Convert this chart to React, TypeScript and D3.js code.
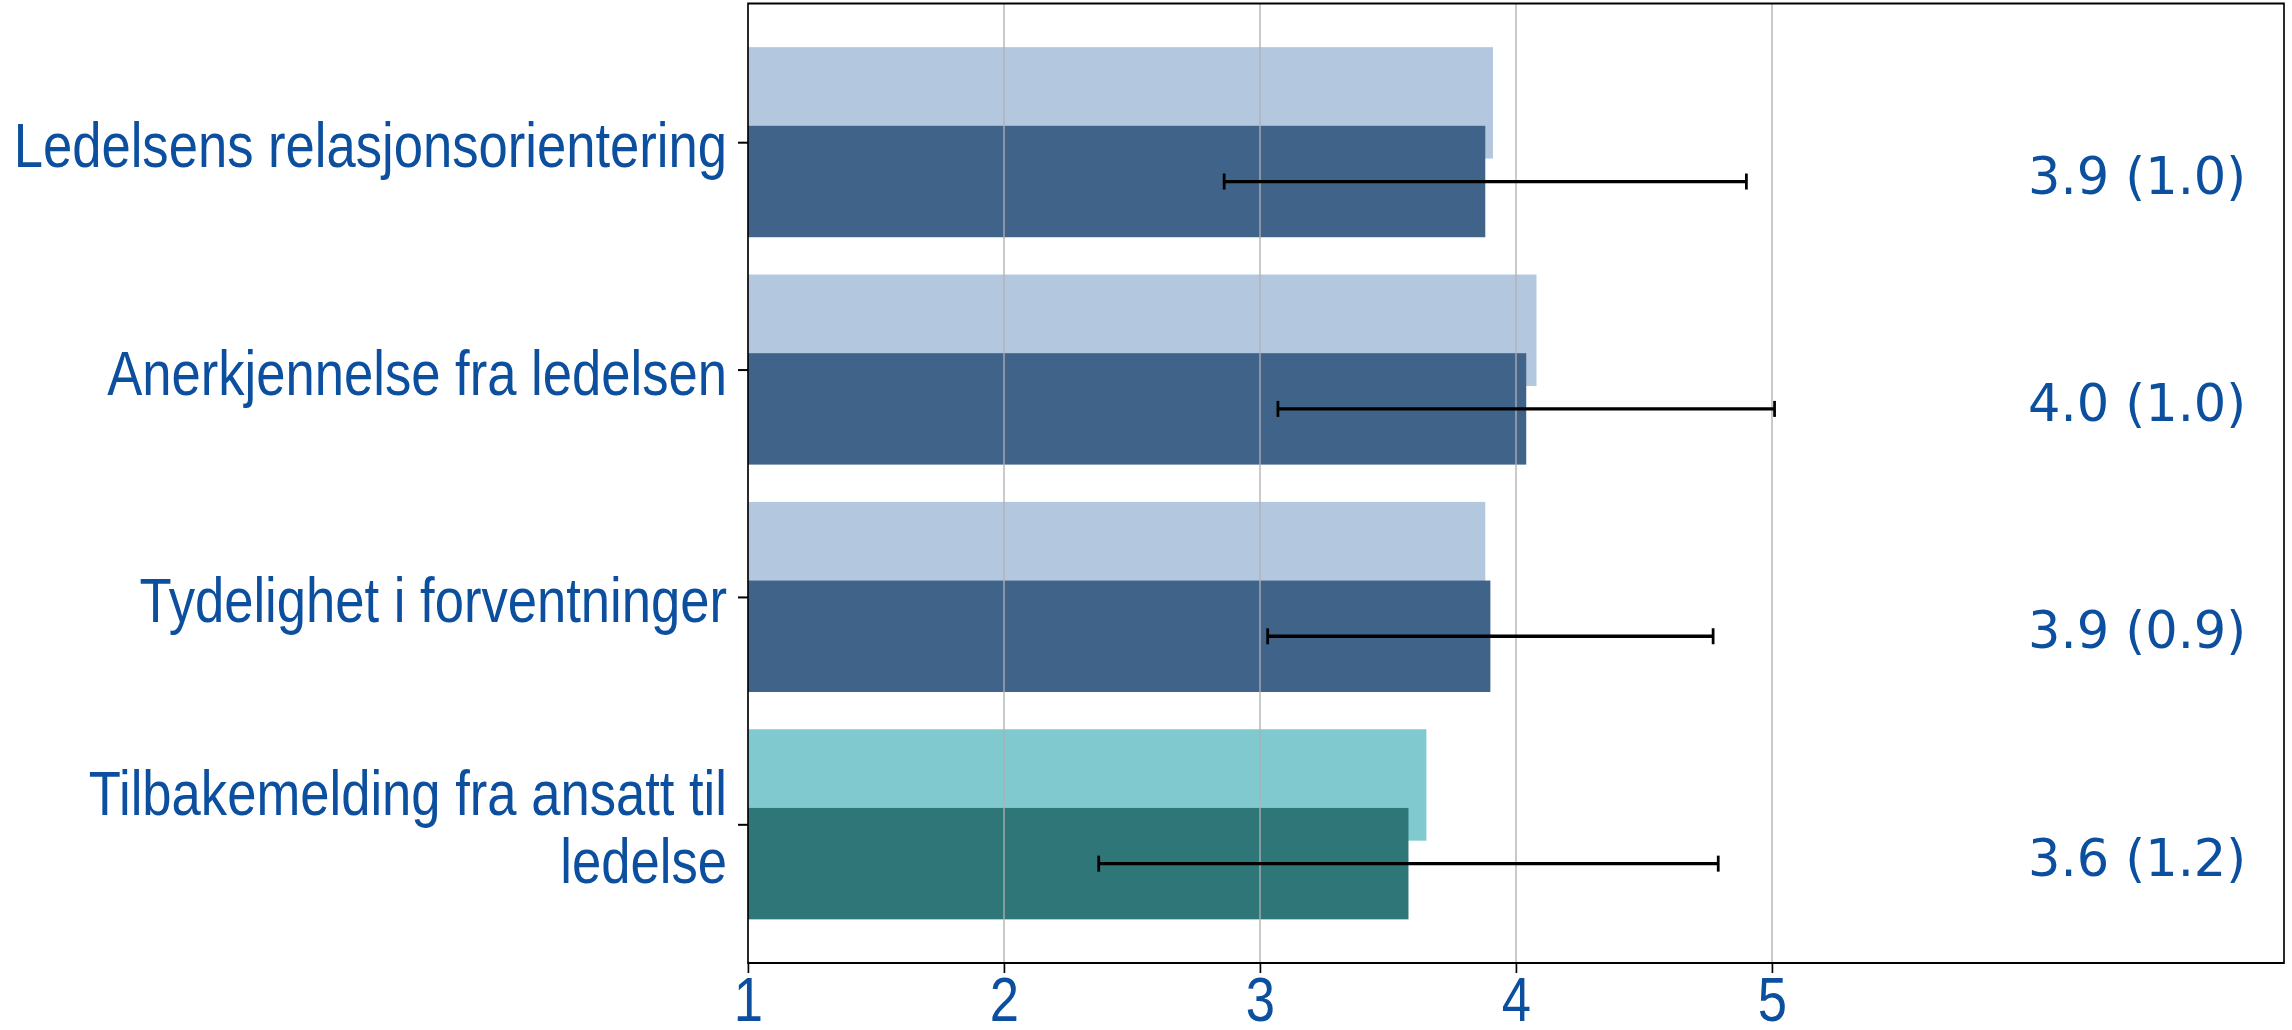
import React, { useEffect, useRef } from "react";
import * as d3 from "d3";

const categories = [
  "Ledelsens relasjonsorientering",
  "Anerkjennelse fra ledelsen",
  "Tydelighet i forventninger",
  "Tilbakemelding fra ansatt til\nledelse",
];
const compareValues = [3.91, 4.08, 3.88, 3.65];
const meanValues = [3.88, 4.04, 3.9, 3.58];
const sdValues = [1.02, 0.97, 0.87, 1.21];
const xTicks = [1, 2, 3, 4, 5];
const lightColors = ["#b3c8de", "#b3c8de", "#b3c8de", "#80c9ce"];
const darkColors = ["#3f6389", "#3f6389", "#3f6389", "#2e7678"];

const W = 2292;
const H = 1030;
// the original picture is squeezed horizontally, so draw wider and let the viewBox squash it
const SX = 0.835;
const TEXT = "#0b4f9e";

const App: React.FC = () => {
  const svgRef = useRef<SVGSVGElement | null>(null);

  useEffect(() => {
    if (!svgRef.current) return;
    const svg = d3.select(svgRef.current);
    svg.selectAll("*").remove();

    const left = 748 / SX;
    const right = 2284 / SX;
    const top = 3.5;
    const bottom = 963;

    const x = d3.scaleLinear().domain([1, 7]).range([left, right]);
    const y = d3.scaleLinear().domain([-0.61, 3.61]).range([top, bottom]);
    const barH = y(0.49) - y(0);
    const off = 0.173;

    svg.append("rect").attr("width", W / SX).attr("height", H).attr("fill", "#fff");

    // comparison bars (behind)
    svg
      .append("g")
      .selectAll("rect")
      .data(compareValues)
      .join("rect")
      .attr("x", x(1))
      .attr("y", (_, i) => y(i - off) - barH / 2)
      .attr("width", (d) => x(d) - x(1))
      .attr("height", barH)
      .attr("fill", (_, i) => lightColors[i]);

    // main bars
    svg
      .append("g")
      .selectAll("rect")
      .data(meanValues)
      .join("rect")
      .attr("x", x(1))
      .attr("y", (_, i) => y(i + off) - barH / 2)
      .attr("width", (d) => x(d) - x(1))
      .attr("height", barH)
      .attr("fill", (_, i) => darkColors[i]);

    // grid
    svg
      .append("g")
      .selectAll("line")
      .data(xTicks.slice(1))
      .join("line")
      .attr("x1", (d) => x(d))
      .attr("x2", (d) => x(d))
      .attr("y1", top)
      .attr("y2", bottom)
      .attr("stroke", "#b0b0b0")
      .attr("stroke-width", 1.6);

    // error bars
    const eb = svg
      .append("g")
      .selectAll("g")
      .data(meanValues)
      .join("g")
      .attr("stroke", "#000")
      .attr("stroke-width", 3.3);
    eb.append("line")
      .attr("x1", (d, i) => x(d - sdValues[i]))
      .attr("x2", (d, i) => x(d + sdValues[i]))
      .attr("y1", (_, i) => y(i + off))
      .attr("y2", (_, i) => y(i + off));
    [-1, 1].forEach((s) => {
      eb.append("line")
        .attr("x1", (d, i) => x(d + s * sdValues[i]))
        .attr("x2", (d, i) => x(d + s * sdValues[i]))
        .attr("y1", (_, i) => y(i + off) - 8)
        .attr("y2", (_, i) => y(i + off) + 8);
    });

    // value labels (these are not squeezed in the original)
    const fmt = d3.format(".1f");
    svg
      .append("g")
      .selectAll("text")
      .data(meanValues)
      .join("text")
      .attr("transform", (_, i) => `translate(${x(6)},${y(i + off) + 12}) scale(${1 / SX},1)`)
      .attr("font-family", "DejaVu Sans, sans-serif")
      .attr("font-size", 51)
      .attr("fill", TEXT)
      .text((d, i) => `${fmt(d)} (${fmt(sdValues[i])})`);

    // frame
    svg
      .append("rect")
      .attr("x", left)
      .attr("y", top)
      .attr("width", right - left)
      .attr("height", bottom - top)
      .attr("fill", "none")
      .attr("stroke", "#000")
      .attr("stroke-width", 2);

    // x axis
    const xAxis = svg
      .append("g")
      .attr("transform", `translate(0,${bottom})`)
      .call(d3.axisBottom(x).tickValues(xTicks).tickFormat(d3.format("d")).tickSize(10).tickPadding(3));
    xAxis.select(".domain").remove();
    xAxis.selectAll("line").attr("stroke", "#000").attr("stroke-width", 2);
    xAxis
      .selectAll("text")
      .attr("font-family", "Liberation Sans, Arial, sans-serif")
      .attr("font-size", 63)
      .attr("fill", TEXT);

    // y axis ticks
    const yAxis = svg
      .append("g")
      .attr("transform", `translate(${left},0)`)
      .call(d3.axisLeft(y).tickValues(d3.range(categories.length)).tickFormat(() => "").tickSize(10 / SX));
    yAxis.select(".domain").remove();
    yAxis.selectAll("line").attr("stroke", "#000").attr("stroke-width", 2);

    // category labels
    const labels = svg
      .append("g")
      .selectAll("text")
      .data(categories)
      .join("text")
      .attr("text-anchor", "end")
      .attr("font-family", "Liberation Sans, Arial, sans-serif")
      .attr("font-size", 63)
      .attr("fill", TEXT);
    labels.each(function (d, i) {
      const lines = d.split("\n");
      const n = lines.length;
      d3.select(this)
        .selectAll("tspan")
        .data(lines)
        .join("tspan")
        .attr("x", 727 / SX)
        .attr("y", (_, k) => y(i) + 25 + (k - (n - 1) / 2) * 68.3)
        .text((l) => l);
    });
  }, []);

  return (
    <svg
      ref={svgRef}
      width={W}
      height={H}
      viewBox={`0 0 ${W / SX} ${H}`}
      preserveAspectRatio="none"
      style={{ position: "absolute", left: 0, top: 0, display: "block" }}
    ></svg>
  );
};

export default App;
